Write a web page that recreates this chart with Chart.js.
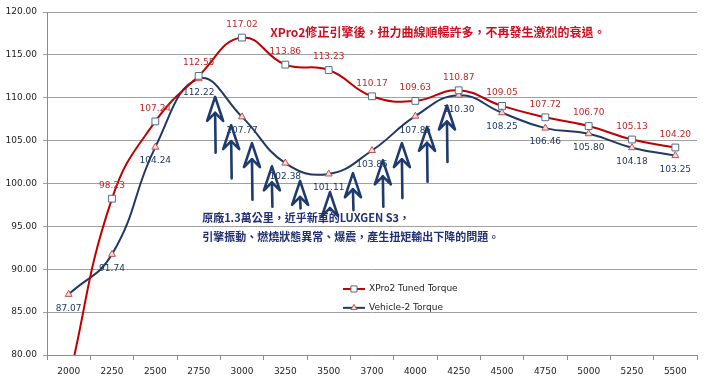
<!DOCTYPE html>
<html>
<head>
<meta charset="utf-8">
<script src="https://cdn.jsdelivr.net/npm/chart.js@4"></script>
<style>
  body { margin: 0; background: #fff; }
  #wrap { width: 720px; height: 390px; }
</style>
</head>
<body>
<div id="wrap"><canvas id="torque"></canvas></div>
<script>
const rpm = ['2000', '2250', '2500', '2750', '3000', '3250', '3500', '3700', '4000', '4250', '4500', '4750', '5000', '5250', '5500'];
// first point is below the axis in the picture, estimated
const tunedTorque = [77, 98.23, 107.24, 112.55, 117.02, 113.86, 113.23, 110.17, 109.63, 110.87, 109.05, 107.72, 106.70, 105.13, 104.20];
const stockTorque = [87.07, 91.74, 104.24, 112.22, 107.77, 102.38, 101.11, 103.85, 107.85, 110.30, 108.25, 106.46, 105.80, 104.18, 103.25];
const seriesNames = ['XPro2 Tuned Torque', 'Vehicle-2 Torque'];

const noteTop = 'XPro2修正引擎後，扭力曲線順暢許多，不再發生激烈的衰退。';
const noteBottom = ['原廠1.3萬公里，近乎新車的LUXGEN S3，', '引擎振動、燃燒狀態異常、爆震，產生扭矩輸出下降的問題。'];

// hand drawn arrows: category position, tip value, tail value
const arrowAt = [3.38, 3.75, 4.23, 4.69, 5.34, 6.03, 6.56, 7.25, 7.69, 8.27, 8.73];
const arrowTip = [110.1, 106.8, 104.7, 102.0, 100.3, 99.0, 101.2, 102.7, 104.7, 106.6, 109.1];
const arrowTail = [103.6, 100.6, 98.1, 97.3, 97.1, 96.9, 96.9, 97.3, 98.3, 100.2, 102.5];

const RED = '#c00000';
const NAVY = '#1f3864';
const numFont = '9px "DejaVu Sans"';

const extras = {
    id: 'extras',
    afterDatasetsDraw(chart) {
        const ctx = chart.ctx;
        const x = chart.scales.x, y = chart.scales.y;

        // value labels
        ctx.save();
        ctx.font = numFont;
        ctx.textAlign = 'center';
        ctx.textBaseline = 'middle';
        chart.data.datasets.forEach((ds, i) => {
            chart.getDatasetMeta(i).data.forEach((pt, j) => {
                const v = ds.data[j];
                if (v < y.min) return;
                ctx.fillStyle = ds.labelColor;
                ctx.fillText(v.toFixed(2), pt.x, pt.y + ds.labelOffset);
            });
        });
        ctx.restore();

        // arrows
        ctx.save();
        ctx.strokeStyle = '#1f3a6c';
        ctx.lineWidth = 2.6;
        ctx.lineJoin = 'round';
        ctx.lineCap = 'round';
        arrowAt.forEach((a, i) => {
            const ax = x.getPixelForValue(a);
            const top = y.getPixelForValue(arrowTip[i]);
            const bot = y.getPixelForValue(arrowTail[i]);
            ctx.beginPath();
            ctx.moveTo(ax, top);
            ctx.lineTo(ax + 8, top + 24);
            ctx.lineTo(ax, top + 16);
            ctx.lineTo(ax - 8, top + 24);
            ctx.closePath();
            ctx.stroke();
            ctx.beginPath();
            ctx.moveTo(ax, top + 16);
            ctx.lineTo(ax + 0.5, bot);
            ctx.stroke();
        });
        ctx.restore();

        // notes
        ctx.save();
        ctx.textBaseline = 'middle';
        ctx.textAlign = 'left';
        ctx.fillStyle = '#cc1020';
        ctx.font = 'bold 12px "Noto Sans CJK TC"';
        ctx.fillText(noteTop, x.getPixelForValue(4.65), y.getPixelForValue(117.65));
        ctx.fillStyle = '#232f74';
        ctx.font = 'bold 11px "Noto Sans CJK TC"';
        ctx.fillText(noteBottom[0], x.getPixelForValue(3.08), y.getPixelForValue(95.95));
        ctx.fillText(noteBottom[1], x.getPixelForValue(3.08), y.getPixelForValue(93.75));
        ctx.restore();

        // legend inside the plot
        ctx.save();
        ctx.font = numFont;
        ctx.textBaseline = 'middle';
        chart.data.datasets.forEach((ds, i) => {
            const lx = x.getPixelForValue(6.33);
            const ly = y.getPixelForValue(87.7 - i * 2.2);
            ctx.strokeStyle = ds.borderColor;
            ctx.lineWidth = 2;
            ctx.beginPath();
            ctx.moveTo(lx, ly);
            ctx.lineTo(lx + 22, ly);
            ctx.stroke();
            ctx.fillStyle = ds.pointBackgroundColor;
            ctx.strokeStyle = ds.pointBorderColor;
            ctx.lineWidth = 1;
            Chart.helpers.drawPoint(ctx, {
                pointStyle: ds.pointStyle,
                radius: ds.pointRadius - 0.5,
                borderWidth: 1
            }, lx + 11, ly);
            ctx.fillStyle = '#222';
            ctx.fillText(ds.label, lx + 26, ly);
        });
        ctx.restore();
    }
};

new Chart(document.getElementById('torque'), {
    type: 'line',
    data: {
        labels: rpm,
        datasets: [
            {
                label: seriesNames[0],
                data: tunedTorque,
                borderColor: RED,
                borderWidth: 2,
                tension: 0.45,
                pointStyle: 'rect',
                pointRadius: 4.8,
                pointBackgroundColor: '#ffffff',
                pointBorderColor: '#4f6f8f',
                pointBorderWidth: 1,
                labelColor: '#c0282a',
                labelOffset: -13
            },
            {
                label: seriesNames[1],
                data: stockTorque,
                borderColor: NAVY,
                borderWidth: 2,
                tension: 0.45,
                pointStyle: 'triangle',
                pointRadius: 4,
                pointBackgroundColor: '#f4dcdc',
                pointBorderColor: '#c0504d',
                pointBorderWidth: 1,
                labelColor: '#1f3864',
                labelOffset: 14
            }
        ]
    },
    options: {
        responsive: true,
        maintainAspectRatio: false,
        animation: false,
        layout: { padding: { top: 12, right: 23, left: 0, bottom: 0 } },
        plugins: {
            legend: { display: false },
            tooltip: { enabled: false }
        },
        scales: {
            x: {
                offset: true,
                afterFit: s => { s.height = 35; },
                grid: { offset: true, drawOnChartArea: false, drawTicks: true, tickLength: 5, color: '#8c8c8c' },
                border: { color: '#8c8c8c' },
                ticks: { font: { family: 'DejaVu Sans', size: 9 }, color: '#222', padding: 6, maxRotation: 0 }
            },
            y: {
                min: 80,
                max: 120,
                afterFit: s => { s.width = 47; },
                grid: { color: '#a0a0a0', tickLength: 4 },
                border: { color: '#8c8c8c' },
                ticks: {
                    stepSize: 5,
                    padding: 6,
                    font: { family: 'DejaVu Sans', size: 9 },
                    color: '#222',
                    callback: v => v.toFixed(2)
                }
            }
        }
    },
    plugins: [extras]
});
</script>
</body>
</html>
